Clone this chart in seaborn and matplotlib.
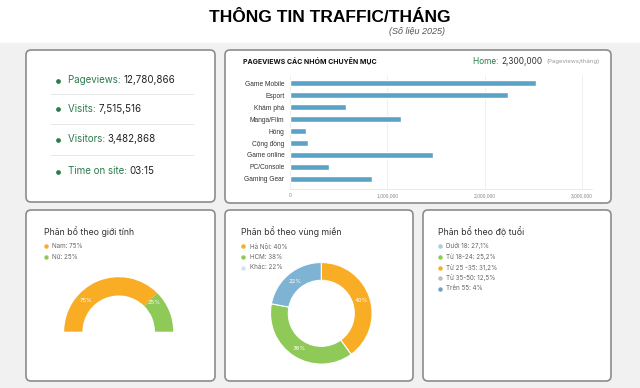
import matplotlib
matplotlib.use("Agg")
import matplotlib.pyplot as plt
from matplotlib.patches import FancyBboxPatch
import seaborn as sns
import pandas as pd

# data
kpi_labels = ["Pageviews:", "Visits:", "Visitors:", "Time on site:"]
kpi_values = ["12,780,866", "7,515,516", "3,482,868", "03:15"]

categories = ["Game Mobile", "Esport", "Khám phá", "Manga/Film", "Hóng",
              "Cộng đồng", "Game online", "PC/Console", "Gaming Gear"]
pageviews = [2530000, 2240000, 577000, 1140000, 160000,
             185000, 1470000, 405000, 845000]
x_ticks = [0, 1000000, 2000000, 3000000]
x_tick_labels = ["0", "1,000,000", "2,000,000", "3,000,000"]

gender_labels = ["Nam", "Nữ"]
gender_values = [75, 25]

region_labels = ["Hà Nội", "HCM", "Khác"]
region_values = [40, 38, 22]

age_labels = ["Dưới 18: 27,1%", "Từ 18-24: 25,2%", "Từ 25 -35: 31,2%",
              "Từ 35-50: 12,5%", "Trên 55: 4%"]

ORANGE = "#f8ad24"
GREEN = "#8fc957"
BLUE = "#7fb3d3"
BAR = "#5ba3c6"
DKGREEN = "#2a7a4b"

sns.set_theme(style="white")
plt.rcParams['font.family'] = ['Inter', 'DejaVu Sans']

W, H = 640, 388
fig = plt.figure(figsize=(W / 100, H / 100), dpi=100)
fig.patch.set_facecolor("white")

# background axis in pixel coords
bg = fig.add_axes([0, 0, 1, 1])
bg.set_xlim(0, W)
bg.set_ylim(H, 0)
bg.axis("off")
bg.add_patch(plt.Rectangle((0, 43), W, H - 43, color="#f1f1f1", zorder=0))


def card(x0, y0, x1, y1):
    bg.add_patch(FancyBboxPatch((x0, y0), x1 - x0, y1 - y0,
                                boxstyle="round,pad=0,rounding_size=5",
                                fc="white", ec="#8c8c8c", lw=1.2, zorder=1))


def px_axes(x0, y0, x1, y1):
    return fig.add_axes([x0 / W, 1 - y1 / H, (x1 - x0) / W, (y1 - y0) / H])


card(26, 50, 215, 202)
card(225, 50, 611, 203)
card(26, 210, 215, 381)
card(225, 210, 413, 381)
card(423, 210, 611, 381)

# header
bg.text(330, 17, "THÔNG TIN TRAFFIC/THÁNG", ha="center", va="center",
        fontsize=12.5, fontweight="bold", family="Liberation Sans", color="black")
bg.text(445, 31, "(Số liệu 2025)", ha="right", va="center", fontsize=6.5,
        style="italic", family="Liberation Sans", color="#555555")

# KPI card
kpi_y = [80, 108.5, 139, 171]
for i, (lab, val) in enumerate(zip(kpi_labels, kpi_values)):
    y = kpi_y[i]
    bg.plot(57.5, y + 0.5, "o", ms=2.4, color=DKGREEN, zorder=3)
    t = bg.text(68, y, lab + " ", ha="left", va="center", fontsize=7,
                color=DKGREEN, zorder=3)
    fig.canvas.draw()
    bb = t.get_window_extent().transformed(bg.transData.inverted())
    bg.text(bb.x1, y, val, ha="left", va="center", fontsize=7,
            color="#222222", zorder=3)
for y in [93.5, 123.5, 155]:
    bg.plot([51, 193], [y, y], color="#e6e6e6", lw=0.7, zorder=2)

# bar chart card
bg.text(243, 61, "PAGEVIEWS CÁC NHÓM CHUYÊN MỤC", ha="left", va="center",
        fontsize=5, fontweight="bold", color="#111111", zorder=3)
t = bg.text(473, 61, "Home: ", ha="left", va="center", fontsize=6,
            color=DKGREEN, zorder=3)
fig.canvas.draw()
bb = t.get_window_extent().transformed(bg.transData.inverted())
t2 = bg.text(bb.x1, 61, "2,300,000", ha="left", va="center", fontsize=6,
             color="#333333", zorder=3)
fig.canvas.draw()
bb2 = t2.get_window_extent().transformed(bg.transData.inverted())
bg.text(bb2.x1 + 4, 61, "(Pageviews/tháng)", ha="left", va="center",
        fontsize=4.3, color="#999999", zorder=3)

df = pd.DataFrame({"category": categories, "pageviews": pageviews})
ax = px_axes(290, 75, 592, 189)
sns.barplot(data=df, x="pageviews", y="category", color=BAR, width=0.5,
            saturation=1, ax=ax, zorder=3)
ax.set_xlim(0, 3.1e6)
ax.set_ylim(8.86, -0.7)
ax.set_xticks(x_ticks)
ax.set_xticklabels(x_tick_labels, fontsize=3.5, color="#888888",
                   family="Liberation Sans")
ax.tick_params(axis="y", labelsize=4.8, colors="#333333", length=0, pad=4)
for lab in ax.get_yticklabels():
    lab.set_family("Liberation Sans")
ax.tick_params(axis="x", length=0, pad=3)
ax.set_xlabel("")
ax.set_ylabel("")
ax.grid(axis="x", color="#ececec", lw=0.6, zorder=0)
for s in ["top", "right", "left"]:
    ax.spines[s].set_visible(False)
ax.spines["bottom"].set_color("#e6e6e6")
ax.spines["bottom"].set_linewidth(0.6)
ax.set_facecolor("none")


def legend(x, y0, items, colors, step=10.6):
    for i, (txt, c) in enumerate(zip(items, colors)):
        y = y0 + i * step
        bg.plot(x, y + 0.3, "o", ms=2.2, color=c, zorder=3)
        bg.text(x + 6.5, y, txt, ha="left", va="center", fontsize=4.5,
                color="#666666", zorder=3)


# gender card
bg.text(44, 232, "Phân bổ theo giới tính", ha="left", va="center",
        fontsize=6.3, color="#333333", zorder=3)
legend(46, 246, [f"{l}: {v}%" for l, v in zip(gender_labels, gender_values)],
       [ORANGE, GREEN])
R = 54.5
cx, cy = 118.7, 331.7
pa = px_axes(cx - R, cy - R, cx + R, cy + R)
pa.pie(gender_values + [sum(gender_values)], colors=[ORANGE, GREEN, "none"],
       startangle=180, counterclock=False, radius=1,
       wedgeprops=dict(width=0.335, edgecolor="none"))
pa.set_xlim(-1, 1)
pa.set_ylim(-1, 1)
pa.set_aspect("equal")
pa.axis("off")
pa.text(-0.6, 0.58, "75%", ha="center", va="center", fontsize=4.3, color="white")
pa.text(0.64, 0.53, "25%", ha="center", va="center", fontsize=4.3, color="white")

# region card
bg.text(241, 232, "Phân bổ theo vùng miền", ha="left", va="center",
        fontsize=6.3, color="#333333", zorder=3)
legend(243, 246, [f"{l}: {v}%" for l, v in zip(region_labels, region_values)],
       [ORANGE, GREEN, "#d3e3f3"])
R = 50.8
cx, cy = 321.3, 313.3
pb = px_axes(cx - R, cy - R, cx + R, cy + R)
pb.pie(region_values, colors=[ORANGE, GREEN, BLUE], startangle=90,
       counterclock=False, radius=1,
       wedgeprops=dict(width=0.35, edgecolor="white", linewidth=0.8),
       labels=[f"{v}%" for v in region_values], labeldistance=0.82,
       textprops=dict(fontsize=4.3, color="white", ha="center", va="center"))
pb.set_xlim(-1, 1)
pb.set_ylim(-1, 1)
pb.set_aspect("equal")
pb.axis("off")

# age card
bg.text(438, 232, "Phân bổ theo độ tuổi", ha="left", va="center",
        fontsize=6.3, color="#333333", zorder=3)
legend(440, 246, age_labels, ["#a8cde3", GREEN, ORANGE, "#bdbdbd", "#6fa3c3"],
       step=10.6)

fig.savefig("out.png", dpi=100, facecolor=fig.get_facecolor())
